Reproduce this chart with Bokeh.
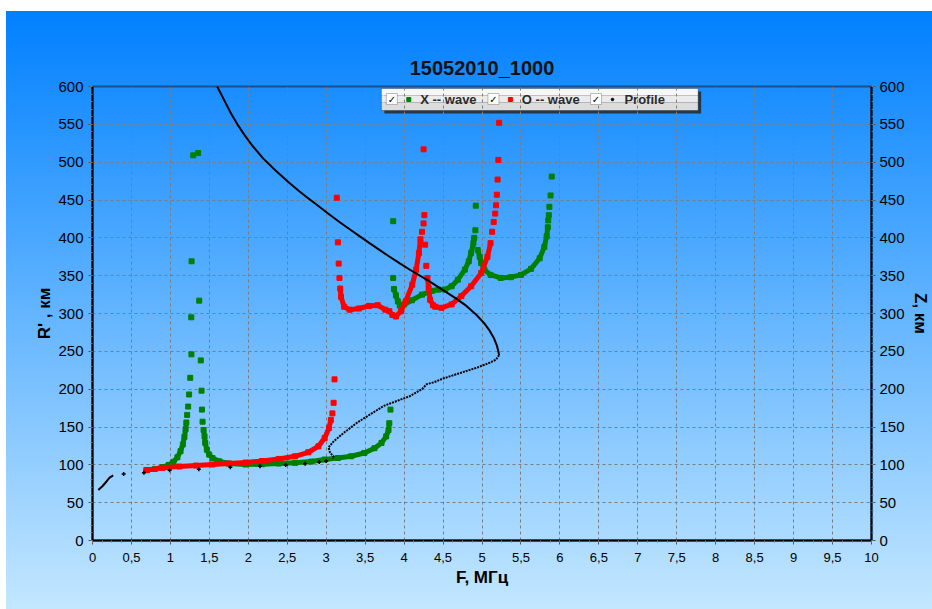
from bokeh.plotting import figure
from bokeh.models import (Range1d, LinearAxis, FixedTicker, CustomJSTickFormatter,
                          BoxAnnotation, Label)
from bokeh.embed import file_html
from bokeh.resources import INLINE

# ---------------------------------------------------------------- data
# Frequency F (MHz) and virtual height R' (km) of the ionogram traces.

# X-wave (green): continuous traces
xw_t1_f = [0.70, 0.80, 0.90, 0.98, 1.04, 1.09, 1.13, 1.16, 1.18, 1.195, 1.205]
xw_t1_r = [93, 94.5, 97, 100, 104, 110, 118, 127, 137, 147, 156]
xw_t2_f = [1.426, 1.438, 1.447, 1.468, 1.498, 1.54, 1.625, 1.75, 1.965, 2.177, 2.39,
           2.6, 2.81, 2.98, 3.15, 3.32, 3.49, 3.62, 3.71, 3.77, 3.80, 3.81]
xw_t2_r = [146, 137.6, 129, 120, 113.5, 109, 104.7, 101.7, 100.4, 100.8, 101.7,
           102.6, 104.3, 107, 109, 111.3, 115.7, 122, 129, 137.6, 146, 155]
xw_t3_f = [3.87, 3.895, 3.92, 3.945, 4.0, 4.1, 4.23, 4.36, 4.44, 4.525, 4.61,
           4.69, 4.78, 4.83, 4.86, 4.89, 4.90]
xw_t3_r = [332.5, 324, 316, 310.5, 312, 317.5, 325, 330, 331.6, 331.6, 336,
           344.7, 358, 369, 380, 393, 400]
xw_t4_f = [4.945, 4.97, 4.99, 5.03, 5.11, 5.24, 5.37, 5.5, 5.63, 5.74, 5.80, 5.83, 5.845]
xw_t4_r = [384, 375, 366.7, 358, 351, 347, 348, 351, 359, 373, 388, 402, 414]
# X-wave: isolated points near the cusps
xw_pts_f = [1.215, 1.228, 1.24, 1.255, 1.27, 1.268, 1.272, 1.293, 1.356,
            1.37, 1.39, 1.40, 1.405, 1.413,
            3.825, 3.86, 3.86, 4.915, 4.92,
            5.85, 5.858, 5.865, 5.88, 5.895]
xw_pts_r = [166, 177, 193, 215, 246, 295, 369, 509, 512,
            317, 238, 198, 173, 157,
            173, 347, 422, 410, 442.5,
            423, 430, 441, 456, 481]

# O-wave (red): continuous traces
ow_t1_f = [0.69, 0.90, 1.116, 1.328, 1.54, 1.75, 1.965, 2.177, 2.39, 2.6, 2.77,
           2.9, 2.98, 3.035, 3.06]
ow_t1_r = [93, 96, 97.75, 99, 100.4, 101.7, 103, 105, 107.8, 111.3, 116.6,
           124.4, 135.4, 148.5, 159.4]
ow_t2_f = [3.18, 3.19, 3.23, 3.30, 3.42, 3.55, 3.66, 3.76, 3.81, 3.85, 3.895,
           3.96, 4.02, 4.105, 4.155, 4.19, 4.21]
ow_t2_r = [333, 322, 309, 305, 306.6, 310, 311, 305, 303, 298, 296,
           303, 316, 338, 358, 380, 398]
ow_t3_f = [4.30, 4.315, 4.335, 4.37, 4.40, 4.48, 4.61, 4.735, 4.86, 4.99, 5.07, 5.11]
ow_t3_r = [347, 334, 318, 311, 309, 307.5, 312, 323, 336, 353.5, 375, 393]
# O-wave: isolated points near the cusps
ow_pts_f = [3.08, 3.095, 3.107,
            3.136, 3.15, 3.16, 3.17,
            4.23, 4.25, 4.26, 4.25,
            4.27, 4.285,
            5.13, 5.15, 5.17, 5.18, 5.19, 5.20, 5.21, 5.22]
ow_pts_r = [168, 182, 213,
            453, 394, 366, 347,
            408, 419, 430, 517,
            391, 363,
            408, 421, 432, 443, 457, 477, 503, 552]

# Electron density profile Z(F) (black)
pr_upper_f = [1.60, 1.65, 1.70, 1.78, 1.86, 1.95, 2.05, 2.19, 2.35, 2.51, 2.65,
              2.76, 2.90, 3.02, 3.17, 3.32, 3.50, 3.655, 3.80, 3.95, 4.08, 4.30,
              4.50, 4.65, 4.80, 4.93, 5.03, 5.10, 5.15, 5.19, 5.21, 5.22]
pr_upper_z = [600, 590, 580, 564, 550, 536, 522, 505, 489, 474, 462,
              453, 442, 432.5, 421, 410, 397, 386, 376, 366, 357.5, 344,
              331, 321, 310, 298, 287, 277, 268, 258, 250, 245]
pr_lower_f = [5.22, 5.18, 5.10, 4.95, 4.80, 4.65, 4.50, 4.38, 4.29, 4.23, 4.08,
              3.91, 3.74, 3.57, 3.40, 3.23, 3.10, 3.03, 3.05, 3.095, 3.08]
pr_lower_z = [245, 239, 235, 229, 224, 219, 214, 209, 206.6, 200, 191,
              184.5, 178, 167, 156, 142.6, 131.5, 123, 116, 111, 108]
pr_pts_f = [3.0, 2.91, 2.73, 2.48, 2.15, 1.77, 1.365, 0.99, 0.66, 0.40]
pr_pts_z = [105, 103.7, 101.5, 99.8, 98, 96.7, 94, 92.7, 89.7, 87.8]
pr_base_f = [0.075, 0.13, 0.18, 0.22, 0.266]
pr_base_z = [66.7, 72, 78, 83, 86]

# Axes
X_MIN, X_MAX = 0, 10
Y_MIN, Y_MAX = 0, 600
X_TICKS = [0, 0.5, 1, 1.5, 2, 2.5, 3, 3.5, 4, 4.5, 5, 5.5, 6, 6.5, 7, 7.5,
           8, 8.5, 9, 9.5, 10]
Y_TICKS = [0, 50, 100, 150, 200, 250, 300, 350, 400, 450, 500, 550, 600]

GREEN = "#008000"
RED = "#ff0000"
BLACK = "#000000"

# ---------------------------------------------------------------- layout
W, H = 932, 609
FL, FT, FW, FH = 92, 86, 782, 454          # plot frame in canvas pixels

p = figure(width=W, height=H, x_range=Range1d(X_MIN, X_MAX),
           y_range=Range1d(Y_MIN, Y_MAX), output_backend="svg",
           toolbar_location=None, min_border_left=FL,
           min_border_right=W - FL - FW, min_border_top=FT,
           min_border_bottom=H - FT - FH, y_axis_location=None)

p.background_fill_alpha = 0
p.border_fill_alpha = 0
p.styles = {
    "background-image": "linear-gradient(to bottom, #0080ff 0%, #62b4ff 50%, #c3e7ff 100%)",
    "background-size": "926px 598px",
    "background-position": "6px 11px",
    "background-repeat": "no-repeat",
}
p.outline_line_color = "#1c4f8c"
p.outline_line_width = 2

p.title.text = "15052010_1000"
p.title.align = "center"
p.title.text_font = "Liberation Sans"
p.title.text_font_size = "20px"
p.title.text_font_style = "bold"
p.title.text_color = "#111111"
p.title.standoff = 15

MINOR_X = [i * 0.125 for i in range(81)]
MINOR_Y = [i * 10 for i in range(61)]


def style_axis(ax, label, ticks, minor, size):
    ax.axis_label = label
    ax.ticker = FixedTicker(ticks=ticks, minor_ticks=minor)
    ax.axis_line_color = "black"
    ax.axis_line_width = 2
    ax.major_tick_line_color = "#555555"
    ax.minor_tick_line_color = "#777777"
    ax.major_tick_in = 0
    ax.major_tick_out = 4
    ax.minor_tick_in = 0
    ax.minor_tick_out = 2
    ax.major_label_text_font = "Liberation Sans"
    ax.major_label_text_font_size = size
    ax.major_label_text_color = "black"
    ax.axis_label_text_font = "Liberation Sans"
    ax.axis_label_text_font_size = "17px"
    ax.axis_label_text_font_style = "bold"
    ax.axis_label_text_color = "black"


fmt = CustomJSTickFormatter(code="return String(tick).replace('.', ',');")

xa = p.xaxis[0]
style_axis(xa, "F, МГц", X_TICKS, MINOR_X, "13px")
xa.formatter = fmt
xa.major_label_standoff = 8
xa.axis_label_standoff = 3

ya = LinearAxis()
style_axis(ya, "R' , км", Y_TICKS, MINOR_Y, "15px")
ya.major_label_standoff = 5
ya.axis_label_standoff = 1
p.add_layout(ya, "left")

za = LinearAxis()
style_axis(za, "Z, км", Y_TICKS, MINOR_Y, "15px")
za.major_label_standoff = 4
za.axis_label_standoff = 3
p.add_layout(za, "right")

p.xgrid.ticker = FixedTicker(ticks=X_TICKS)
p.ygrid.ticker = FixedTicker(ticks=Y_TICKS)
for g in (p.xgrid[0], p.ygrid[0]):
    g.grid_line_color = "#7d7d7d"
    g.grid_line_dash = "3 3"
    g.grid_line_width = 1

# ---------------------------------------------------------------- traces
for f, r in ((xw_t1_f, xw_t1_r), (xw_t2_f, xw_t2_r), (xw_t3_f, xw_t3_r), (xw_t4_f, xw_t4_r)):
    p.line(f, r, line_color=GREEN, line_width=5, line_join="round")
    p.scatter(f, r, marker="square", size=5, color=GREEN)
p.scatter(xw_pts_f, xw_pts_r, marker="square", size=5, color=GREEN)

for f, r in ((ow_t1_f, ow_t1_r), (ow_t2_f, ow_t2_r), (ow_t3_f, ow_t3_r)):
    p.line(f, r, line_color=RED, line_width=5, line_join="round")
    p.scatter(f, r, marker="square", size=5, color=RED)
p.scatter(ow_pts_f, ow_pts_r, marker="square", size=5, color=RED)

p.line(pr_upper_f, pr_upper_z, line_color=BLACK, line_width=2, line_join="round")
p.line(pr_lower_f, pr_lower_z, line_color=BLACK, line_width=2, line_dash="2 1")
p.line(pr_base_f, pr_base_z, line_color=BLACK, line_width=2)
p.scatter(pr_pts_f, pr_pts_z, marker="cross", size=4, line_width=1.5, color=BLACK)

# ---------------------------------------------------------------- legend
def fx(px):
    return X_MIN + (px - FL) / FW * (X_MAX - X_MIN)


def fy(py):
    return Y_MAX - (py - FT) / FH * (Y_MAX - Y_MIN)


p.add_layout(BoxAnnotation(left=fx(385), right=fx(703), top=fy(91), bottom=fy(113),
                           fill_color="#222222", fill_alpha=0.8, line_alpha=0,
                           level="image"))
bands = [(88, 95, "#f7f7f7"), (95, 102, "#ebebeb"), (102, 110, "#dcdcdc")]
for t, b, c in bands:
    p.add_layout(BoxAnnotation(left=fx(382), right=fx(700), top=fy(t), bottom=fy(b),
                               fill_color=c, fill_alpha=1, line_alpha=0, level="image"))
p.add_layout(BoxAnnotation(left=fx(382), right=fx(700), top=fy(88), bottom=fy(110),
                           fill_alpha=0, line_color="black", line_width=1, level="image"))

legend_items = [(387, 409.5, GREEN, "square", 4, 421, "X -- wave"),
                (489, 511.5, RED, "square", 4, 523, "O -- wave"),
                (592, 614, BLACK, "circle", 2.5, 626, "Profile")]
for cb, mx, col, mk, ms, tx, txt in legend_items:
    p.add_layout(BoxAnnotation(left=fx(cb), right=fx(cb + 11), top=fy(93), bottom=fy(104),
                               fill_color="white", fill_alpha=1, line_color="#333333",
                               line_width=1, level="annotation"))
    p.add_layout(Label(x=fx(cb + 5.5), y=fy(98.5), text="✓", text_align="center",
                       text_baseline="middle", text_font="DejaVu Sans",
                       text_font_size="10px", text_font_style="bold", text_color="black"))
    p.scatter([fx(mx)], [fy(99)], marker=mk, size=ms, color=col)
    p.add_layout(Label(x=fx(tx), y=fy(99), text=txt, text_align="left",
                       text_baseline="middle", text_font="Liberation Sans",
                       text_font_size="13px", text_font_style="bold", text_color="#2b2b2b"))

open("out.html", "w").write(file_html(p, INLINE))
